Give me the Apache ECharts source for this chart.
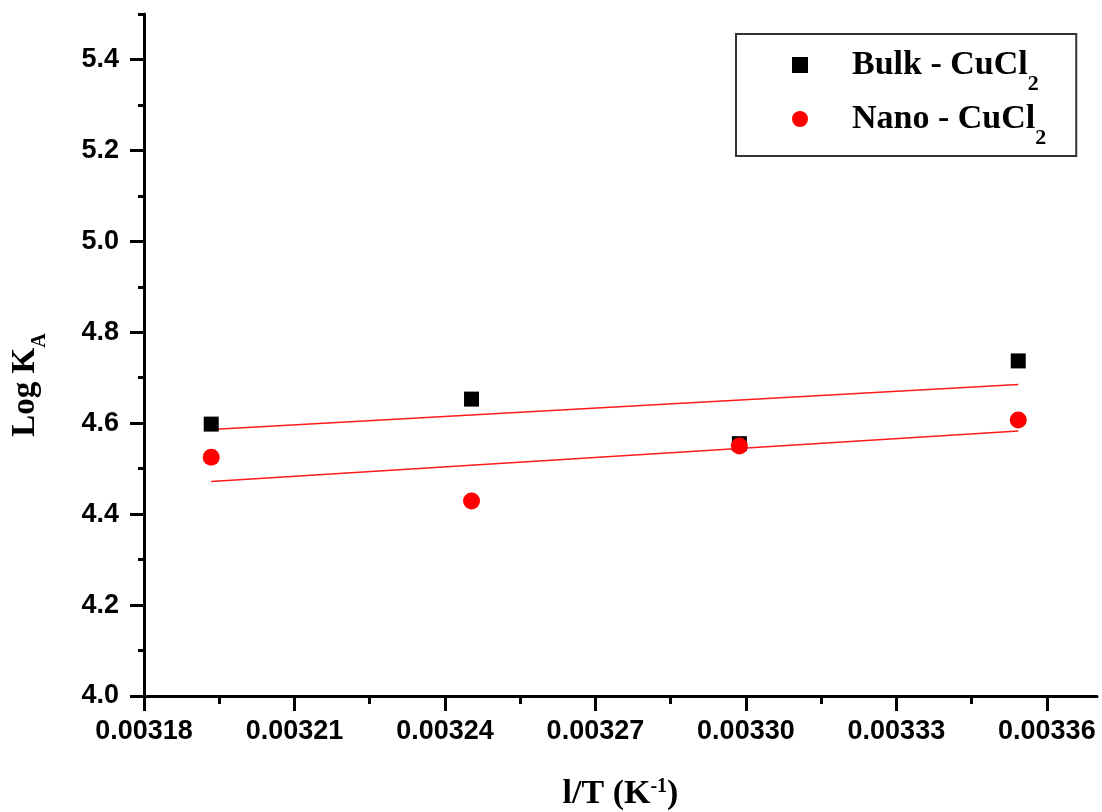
<!DOCTYPE html>
<html>
<head>
<meta charset="utf-8">
<script src="https://cdn.jsdelivr.net/npm/echarts@6/dist/echarts.min.js"></script>
<style>
html,body{margin:0;padding:0;background:#fff;}
#chart{width:1102px;height:812px;}
</style>
</head>
<body>
<div id="chart"></div>
<script>
// ---- data ----
const invT = [0.0031934, 0.0032453, 0.0032987, 0.0033543];
const bulkLogK = [4.598, 4.653, 4.555, 4.737];
const nanoLogK = [4.525, 4.429, 4.550, 4.607];
// fitted lines (end points)
const fitX = [0.0031934, 0.0033543];
const bulkFit = [4.586, 4.685];
const nanoFit = [4.472, 4.583];
// axis ticks
const xMajorTicks = [0.00318, 0.00321, 0.00324, 0.00327, 0.00330, 0.00333, 0.00336];
const xMinorTicks = [0.003195, 0.003225, 0.003255, 0.003285, 0.003315, 0.003345];
const yMajorTicks = [4.0, 4.2, 4.4, 4.6, 4.8, 5.0, 5.2, 5.4];
const yMinorTicks = [4.1, 4.3, 4.5, 4.7, 4.9, 5.1, 5.3, 5.5];
const seriesNames = ['Bulk - CuCl2', 'Nano - CuCl2'];

const pair = (xs, ys) => xs.map((x, i) => [x, ys[i]]);

const chart = echarts.init(document.getElementById('chart'), null, {renderer: 'canvas'});

const axisLineStyle = {color: '#000', width: 3};
const labelFont = {fontFamily: 'Liberation Sans', fontWeight: 'bold', fontSize: 27, color: '#000'};

const option = {
  backgroundColor: '#fff',
  animation: false,
  grid: {left: 144, right: 5, top: 14, bottom: 116, containLabel: false, outerBoundsMode: 'none'},
  legend: {
    data: seriesNames,
    left: 736, top: 34,
    orient: 'vertical',
    borderColor: '#333', borderWidth: 2,
    padding: [1, 30, 7, 56],
    itemGap: -6,
    itemWidth: 16, itemHeight: 16,
    formatter: function (name) {
      return '{n|' + name.slice(0, -1) + '}{s|' + name.slice(-1) + '}';
    },
    textStyle: {
      rich: {
        n: {fontFamily: 'Liberation Serif', fontWeight: 'bold', fontSize: 34, lineHeight: 40, color: '#000', padding: [0, 0, 0, 39], verticalAlign: 'middle'},
        s: {fontFamily: 'Liberation Serif', fontWeight: 'bold', fontSize: 22, lineHeight: 22, color: '#000', padding: [38, 0, 0, 0]}
      }
    }
  },
  xAxis: [{
    type: 'value',
    min: 0.00318, max: 0.00337,
    position: 'bottom',
    axisLine: {show: true, onZero: false, lineStyle: axisLineStyle},
    axisTick: {show: true, inside: false, length: 15, lineStyle: {color: '#000', width: 3}, customValues: xMajorTicks},
    axisLabel: Object.assign({margin: 22, customValues: xMajorTicks, formatter: v => v.toFixed(5)}, labelFont),
    splitLine: {show: false},
    name: '{t|l/T (K}{p|-1}{t|)}',
    nameLocation: 'middle',
    nameGap: 78,
    nameTextStyle: {
      rich: {
        t: {fontFamily: 'Liberation Serif', fontWeight: 'bold', fontSize: 34, lineHeight: 40, color: '#000'},
        p: {fontFamily: 'Liberation Serif', fontWeight: 'bold', fontSize: 20, lineHeight: 20, color: '#000', verticalAlign: 'top', padding: [3, 0, 0, 0]}
      }
    }
  }, {
    type: 'value',
    min: 0.00318, max: 0.00337,
    position: 'bottom',
    axisLine: {show: false, onZero: false},
    axisTick: {show: true, length: 8, lineStyle: {color: '#000', width: 3}, customValues: xMinorTicks},
    axisLabel: {show: false},
    splitLine: {show: false}
  }],
  yAxis: [{
    type: 'value',
    min: 4.0, max: 5.5,
    position: 'left',
    axisLine: {show: true, onZero: false, lineStyle: axisLineStyle},
    axisTick: {show: true, length: 14, lineStyle: {color: '#000', width: 3}, customValues: yMajorTicks},
    axisLabel: Object.assign({margin: 25, customValues: yMajorTicks, formatter: v => v.toFixed(1)}, labelFont),
    splitLine: {show: false},
    name: '{t|Log K}{s|A}',
    nameLocation: 'middle',
    nameRotate: 90,
    nameGap: 99,
    nameTextStyle: {
      padding: [0, 60, 0, 0],
      rich: {
        t: {fontFamily: 'Liberation Serif', fontWeight: 'bold', fontSize: 33, lineHeight: 40, color: '#000'},
        s: {fontFamily: 'Liberation Serif', fontWeight: 'bold', fontSize: 20, lineHeight: 20, color: '#000', padding: [30, 0, 0, 0]}
      }
    }
  }, {
    type: 'value',
    min: 4.0, max: 5.5,
    position: 'left',
    offset: 0,
    axisLine: {show: false, onZero: false},
    axisTick: {show: true, length: 6, lineStyle: {color: '#000', width: 3}, customValues: yMinorTicks},
    axisLabel: {show: false},
    splitLine: {show: false}
  }],
  series: [
    {
      name: 'Bulk fit', type: 'line', xAxisIndex: 0, yAxisIndex: 0,
      data: pair(fitX, bulkFit), showSymbol: false, symbol: 'none',
      lineStyle: {color: '#ff1a1a', width: 1.5}, z: 1
    },
    {
      name: 'Nano fit', type: 'line', xAxisIndex: 0, yAxisIndex: 0,
      data: pair(fitX, nanoFit), showSymbol: false, symbol: 'none',
      lineStyle: {color: '#ff1a1a', width: 1.5}, z: 1
    },
    {
      name: seriesNames[0], type: 'scatter', xAxisIndex: 0, yAxisIndex: 0,
      data: pair(invT, bulkLogK), symbol: 'rect', symbolSize: 15,
      itemStyle: {color: '#000', opacity: 1}, z: 2
    },
    {
      name: seriesNames[1], type: 'scatter', xAxisIndex: 0, yAxisIndex: 0,
      data: pair(invT, nanoLogK), symbol: 'circle', symbolSize: 17,
      itemStyle: {color: '#ff0000', opacity: 1}, z: 3
    }
  ]
};
chart.setOption(option);
</script>
</body>
</html>
